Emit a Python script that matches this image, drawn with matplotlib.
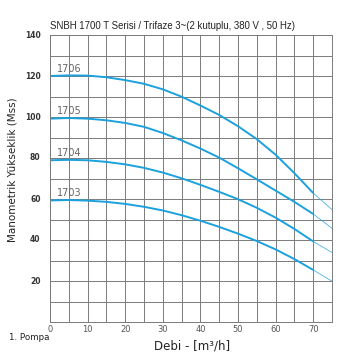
import numpy as np
from matplotlib import pyplot as plt

plt.rcParams['font.family'] = ['Liberation Sans', 'DejaVu Sans']

debi = [0, 5, 10, 15, 20, 25, 30, 35, 40, 45, 50, 55, 60, 65, 70, 75]
h_1706 = [120, 120.3, 120.2, 119.4, 118, 116.2, 113.5, 109.9, 105.6, 101, 95.5, 89.2, 81.6, 72.6, 62.9, 54.8]
h_1705 = [99.2, 99.5, 99.2, 98.4, 97.1, 95.2, 92.2, 88.6, 84.6, 80.2, 75, 69.6, 64.1, 58.6, 52.7, 45.7]
h_1704 = [78.9, 79.1, 78.9, 78.1, 76.9, 75.2, 72.9, 70.1, 66.9, 63.5, 59.9, 55.7, 50.9, 45.4, 39.3, 33.9]
h_1703 = [59.3, 59.5, 59.2, 58.6, 57.6, 56.2, 54.4, 52.1, 49.4, 46.4, 43.1, 39.5, 35.4, 30.7, 25.4, 19.9]
pumps = ['1706', '1705', '1704', '1703']
heads = [h_1706, h_1705, h_1704, h_1703]

x_ticks = [0, 10, 20, 30, 40, 50, 60, 70]
y_ticks = [20, 40, 60, 80, 100, 120, 140]

blue = '#1ba1de'

fig = plt.figure(figsize=(3.56, 3.60), dpi=100)
ax = fig.add_axes([50/356, 1-322/360, 282/356, 287/360])

x = np.array(debi)
for name, h in zip(pumps, heads):
    h = np.array(h)
    m = x <= 70
    ax.plot(x[m], h[m], color=blue, lw=1.4, solid_capstyle='butt', solid_joinstyle='round')
    ax.plot(x[-2:], h[-2:], color=blue, lw=0.6, alpha=0.8)
    ax.text(1.8, h[0] + 1.2, name, fontsize=7, color='#666666', ha='left', va='bottom',
            family=['DejaVu Sans'])

ax.set_xlim(0, 75)
ax.set_ylim(0, 140)
ax.set_xticks(np.arange(0, 76, 5))
ax.set_yticks(np.arange(0, 141, 10))
ax.grid(True, color='#7a7a7a', lw=0.7)
ax.set_axisbelow(True)
for s in ax.spines.values():
    s.set_color('#7a7a7a')
    s.set_linewidth(0.7)
ax.tick_params(length=0, labelbottom=False, labelleft=False)

for t in x_ticks:
    ax.text(t, -3.8, str(t), fontsize=6, color='#555555', ha='center', va='center',
            family=['DejaVu Sans'])
for t in y_ticks:
    ax.text(-2.5, t, str(t), fontsize=5.5, color='#333333', ha='right', va='center',
            family=['DejaVu Sans'], fontweight='bold')

fig.text(50/356, 1-26/360, 'SNBH 1700 T Serisi / Trifaze 3~(2 kutuplu, 380 V , 50 Hz)',
         fontsize=6.9, color='#222222', ha='left', va='center')
fig.text(13/356, 1-170/360, 'Manometrik Yükseklik (Mss)', fontsize=7.5, color='#222222',
         rotation=90, ha='center', va='center', family=['DejaVu Sans'])
fig.text(9/356, 1-338/360, '1. Pompa', fontsize=6.3, color='#222222', ha='left', va='center',
         family=['DejaVu Sans'])
fig.text(192/356, 1-346/360, 'Debi - [m³/h]', fontsize=8.5, color='#222222',
         ha='center', va='center', family=['DejaVu Sans'])

fig.savefig('out.png', dpi=100)
